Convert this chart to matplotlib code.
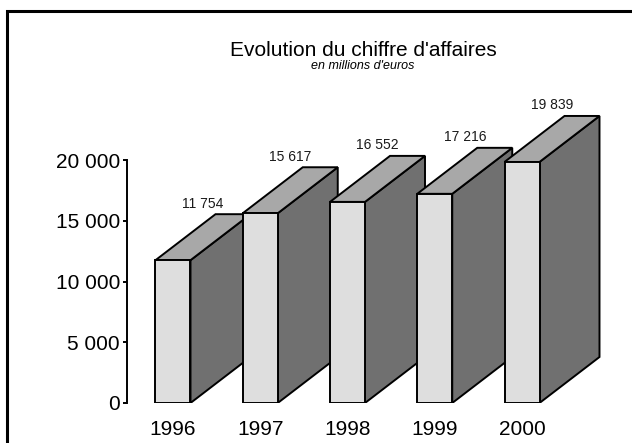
import matplotlib
matplotlib.use("Agg")
import matplotlib.pyplot as plt
from matplotlib.patches import Polygon, Rectangle

plt.rcParams['font.family'] = ['Liberation Sans', 'DejaVu Sans']

# data
years = ['1996', '1997', '1998', '1999', '2000']
revenue = [11754, 15617, 16552, 17216, 19839]
y_ticks = [0, 5000, 10000, 15000, 20000]

title = "Evolution du chiffre d'affaires"
subtitle = "en millions d'euros"

# colours for the three visible faces
front_col = '#dedede'
top_col = '#a8a8a8'
side_col = '#707070'

W, H = 632, 443
fig = plt.figure(figsize=(W / 100, H / 100), dpi=100)

# outer frame (runs off the right and bottom edge)
fig.patches.append(Rectangle((7 / W, -0.2), 1.2, 1.2 - 11 / H,
                             transform=fig.transFigure, fill=False,
                             edgecolor='black', linewidth=2.2))

# axes placed so that y=0 sits at px 403 and 20000 at px 160
ax = fig.add_axes([127 / W, (H - 403) / H, (W - 127) / W, 403 / H])
ax.set_facecolor('none')
px_per_unit = 243 / 20000
ax.set_ylim(0, 403 / px_per_unit)
step = 87.25
ax.set_xlim((127 - 173) / step, (W - 173) / step)

bar_w = 35 / step
dx = 60 / step
dy = 46 / px_per_unit
lw = 1.4

for i, v in enumerate(revenue):
    x0 = i - bar_w / 2
    x1 = i + bar_w / 2
    z = 2 + i * 3
    side = Polygon([(x1, 0), (x1 + dx, dy), (x1 + dx, v + dy), (x1, v)],
                   closed=True, facecolor=side_col, edgecolor='black',
                   linewidth=lw, joinstyle='miter', zorder=z)
    top = Polygon([(x0, v), (x1, v), (x1 + dx, v + dy), (x0 + dx, v + dy)],
                  closed=True, facecolor=top_col, edgecolor='black',
                  linewidth=lw, joinstyle='miter', zorder=z + 1)
    front = Polygon([(x0, 0), (x1, 0), (x1, v), (x0, v)],
                    closed=True, facecolor=front_col, edgecolor='black',
                    linewidth=lw, joinstyle='miter', zorder=z + 2)
    ax.add_patch(side)
    ax.add_patch(top)
    ax.add_patch(front)
    label = f"{v:,}".replace(",", " ")
    ax.annotate(label, (i + dx / 2, v + dy), xytext=(0, 2.5),
                textcoords='offset points', ha='center', va='bottom',
                fontsize=10, color='#1a1a1a', zorder=30)

# axes styling
for s in ['top', 'right', 'bottom']:
    ax.spines[s].set_visible(False)
ax.spines['left'].set_bounds(0, 20000)
ax.spines['left'].set_linewidth(lw)
ax.set_yticks(y_ticks)
ax.set_yticklabels([f"{t:,}".replace(",", " ") for t in y_ticks])
ax.tick_params(axis='y', length=3, width=lw, pad=2, labelsize=15)
ax.set_xticks(range(len(years)))
ax.set_xticklabels(years)
ax.tick_params(axis='x', length=0, pad=12, labelsize=15)

fig.text(363 / W, 1 - 56 / H, title, ha='center', va='baseline', fontsize=15)
fig.text(363 / W, 1 - 69 / H, subtitle, ha='center', va='baseline',
         fontsize=9, style='italic')

fig.savefig('out.png', dpi=100)
